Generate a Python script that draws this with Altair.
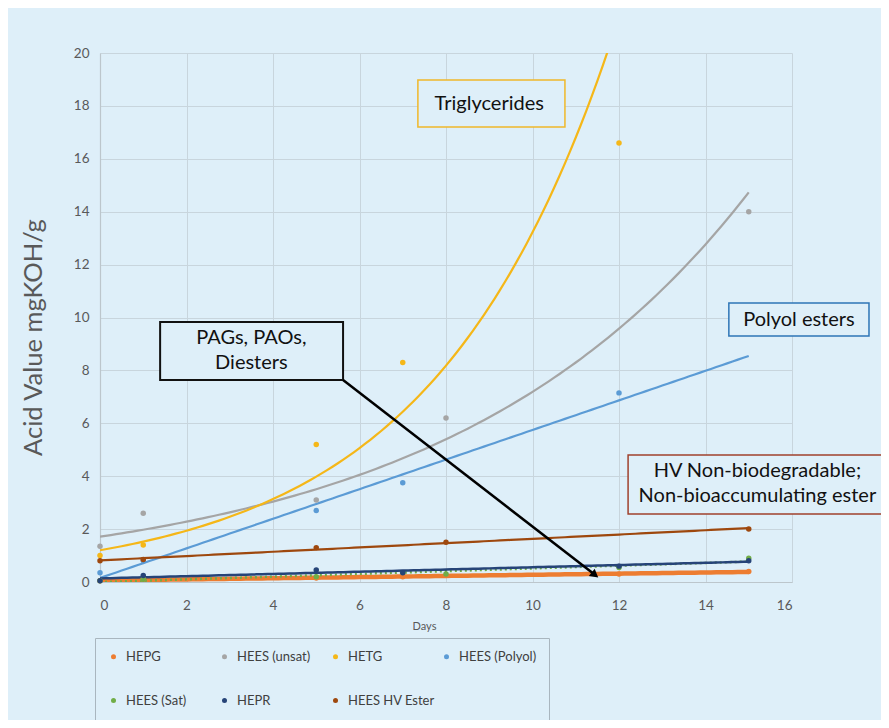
import altair as alt
import numpy as np
import pandas as pd

# ---- data ----
series_names = ["HEPG", "HEES (unsat)", "HETG", "HEES (Polyol)", "HEES (Sat)", "HEPR", "HEES HV Ester"]
series_colors = ["#ED7D31", "#A5A5A5", "#F5B718", "#5B9BD5", "#70AD47", "#264478", "#9E480E"]

hepg_days = [0, 1, 5, 7, 12, 15]
hepg_vals = [0.05, 0.1, 0.15, 0.2, 0.3, 0.4]

unsat_days = [0, 1, 5, 8, 15]
unsat_vals = [1.35, 2.6, 3.1, 6.2, 14.0]

hetg_days = [0, 1, 5, 7, 12]
hetg_vals = [1.0, 1.4, 5.2, 8.3, 16.6]

polyol_days = [0, 1, 5, 7, 12]
polyol_vals = [0.35, 0.8, 2.7, 3.75, 7.15]

sat_days = [0, 1, 5, 8, 12, 15]
sat_vals = [0.05, 0.1, 0.2, 0.3, 0.55, 0.9]

hepr_days = [0, 1, 5, 7, 12, 15]
hepr_vals = [0.05, 0.25, 0.45, 0.35, 0.6, 0.8]

hv_days = [0, 1, 5, 8, 15]
hv_vals = [0.8, 0.85, 1.3, 1.5, 2.0]

trend_types = ["linear", "exp", "exp", "linear", "linear", "linear", "linear"]
trend_end = 15

all_days = [hepg_days, unsat_days, hetg_days, polyol_days, sat_days, hepr_days, hv_days]
all_vals = [hepg_vals, unsat_vals, hetg_vals, polyol_vals, sat_vals, hepr_vals, hv_vals]

# ---- tables ----
pts = pd.DataFrame(
    [(n, d, v) for n, ds, vs in zip(series_names, all_days, all_vals) for d, v in zip(ds, vs)],
    columns=["series", "day", "value"],
)

rows = []
grid = np.linspace(0, trend_end, 121)
for n, ds, vs, kind in zip(series_names, all_days, all_vals, trend_types):
    ds = np.array(ds, float)
    vs = np.array(vs, float)
    if kind == "exp":
        b, a = np.polyfit(ds, np.log(vs), 1)
        fit = np.exp(a + b * grid)
    else:
        b, a = np.polyfit(ds, vs, 1)
        fit = a + b * grid
    for g, f in zip(grid, fit):
        rows.append((n, g, f))
trend = pd.DataFrame(rows, columns=["series", "day", "fit"])

BG = "#DEEFF9"
FONT = "Lato"
TXT = "#595959"

xscale = alt.Scale(domain=[0, 16], nice=False)
yscale = alt.Scale(domain=[0, 20], nice=False)
cscale = alt.Scale(domain=series_names, range=series_colors)

xaxis = alt.Axis(values=list(range(0, 17, 2)), title="Days", titleFontSize=11, titlePadding=9,
                 titleX=324, labelPadding=16)
yaxis = alt.Axis(values=list(range(0, 21, 2)), title="Acid Value mgKOH/g", titleFontSize=25.5,
                 titleX=-67, titleY=284, titleBaseline="middle", labelPadding=11)


def trend_layer(names, width, dash=None):
    kw = dict(strokeWidth=width, clip=True)
    if dash:
        kw["strokeDash"] = dash
    return (
        alt.Chart(trend)
        .transform_filter(alt.FieldOneOfPredicate(field="series", oneOf=names))
        .mark_line(**kw)
        .encode(
            x=alt.X("day:Q", scale=xscale, axis=xaxis),
            y=alt.Y("fit:Q", scale=yscale, axis=yaxis),
            color=alt.Color("series:N", scale=cscale, legend=None),
            detail="series:N",
        )
    )


lines_orange = trend_layer(["HEPG"], 4.5)
lines_main = trend_layer(["HEES (unsat)", "HETG", "HEES (Polyol)", "HEES HV Ester"], 2.2)
lines_green = trend_layer(["HEES (Sat)"], 2.5, [2, 3])
lines_navy = trend_layer(["HEPR"], 2.5)

points = (
    alt.Chart(pts)
    .mark_circle(size=30, opacity=1)
    .encode(
        x=alt.X("day:Q", scale=xscale, axis=xaxis),
        y=alt.Y("value:Q", scale=yscale, axis=yaxis),
        color=alt.Color(
            "series:N",
            scale=cscale,
            sort=series_names,
            legend=alt.Legend(
                title=None, orient="none", legendX=-5, legendY=585, columns=4,
                direction="horizontal",
                gridAlign="all", columnPadding=5, rowPadding=30, padding=12,
                fillColor=BG, strokeColor="#A9B6BF", symbolType="circle", symbolSize=25,
                symbolStrokeWidth=0, labelFont=FONT, labelFontSize=13, labelColor="#404040",
                labelOffset=6,
            ),
        ),
    )
)

one = pd.DataFrame({"k": [0]})


def box(x1, x2, y1, y2, stroke, sw):
    return alt.Chart(one).mark_rect(fill=BG, stroke=stroke, strokeWidth=sw).encode(
        x=alt.datum(x1), x2=alt.datum(x2), y=alt.datum(y1), y2=alt.datum(y2)
    )


def label(txt, x, y, size=20):
    return alt.Chart(one).mark_text(
        text=txt, font=FONT, fontSize=size, color="#111111", lineHeight=25, baseline="middle"
    ).encode(x=alt.datum(x), y=alt.datum(y))


annotations = [
    box(7.35, 10.75, 17.2, 18.98, "#F0B82A", 1.5),
    label("Triglycerides", 9.0, 18.07),
    box(14.54, 17.78, 9.3, 10.55, "#2E75B6", 1.5),
    label("Polyol esters", 16.16, 9.9),
    box(12.21, 18.2, 2.57, 4.8, "#A0412D", 1.5),
    label(["HV Non-biodegradable;", "Non-bioaccumulating ester"], 15.2, 4.2),
]

pag_box = box(1.39, 5.62, 7.64, 9.83, "#111111", 2)
pag_text = label(["PAGs, PAOs,", "Diesters"], 3.5, 9.22)

arrow_line = alt.Chart(one).mark_rule(color="#000000", strokeWidth=2.5).encode(
    x=alt.datum(5.62), y=alt.datum(7.64), x2=alt.datum(11.42), y2=alt.datum(0.3)
)
arrow_head = alt.Chart(one).mark_point(
    shape="triangle", filled=True, size=90, angle=128, color="#000000", opacity=1
).encode(x=alt.datum(11.42), y=alt.datum(0.3))

chart = (
    alt.layer(
        lines_orange, lines_main, lines_green, lines_navy, points,
        *annotations, pag_box, pag_text, arrow_line, arrow_head,
    )
    .resolve_legend(color="independent")
    .properties(
        width=692, height=529,
        autosize=alt.AutoSizeParams(type="none"),
        padding={"left": 92, "top": 45, "right": 89, "bottom": 138},
        background=BG,
    )
    .configure_view(stroke=None)
    .configure_axis(
        grid=True, gridColor="#C8D5DD", gridWidth=1, ticks=False,
        domainColor="#BCC6CC", domainWidth=1.2,
        labelFont=FONT, labelFontSize=13.5, labelColor=TXT,
        titleFont=FONT, titleColor=TXT, titleFontWeight="normal",
    )
)

chart.save("out.html", embed_options={"renderer": "svg", "actions": False})
